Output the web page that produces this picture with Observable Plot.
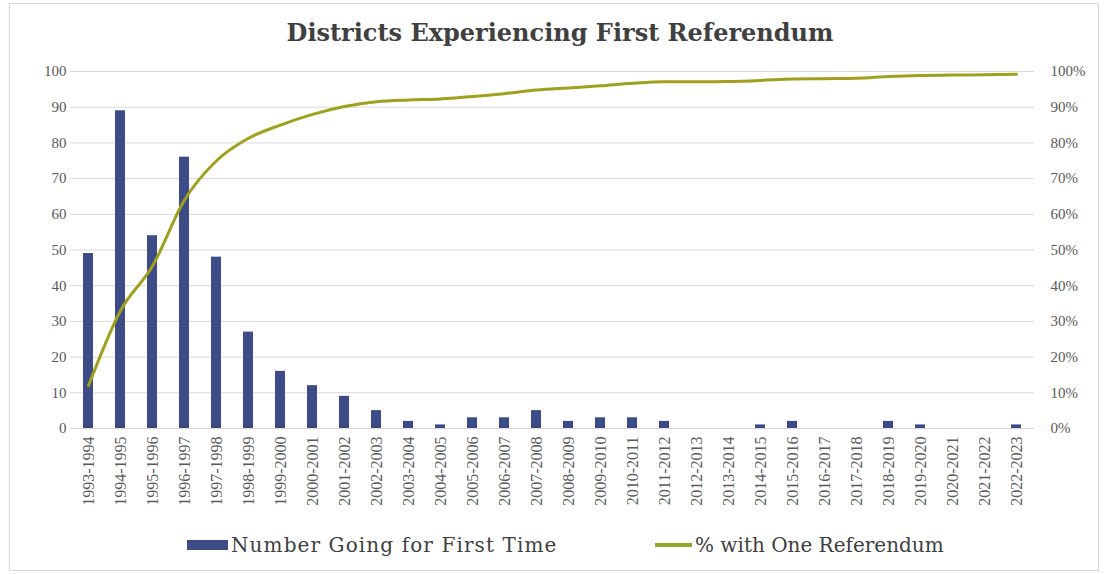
<!DOCTYPE html>
<html>
<head>
<meta charset="utf-8">
<script src="https://cdn.jsdelivr.net/npm/d3@7"></script>
<script src="https://cdn.jsdelivr.net/npm/@observablehq/plot@0.6"></script>
<style>
  html, body { margin: 0; padding: 0; background: #fff; }
  #frame { position: relative; width: 1105px; height: 574px; overflow: hidden; font-family: "Liberation Serif", serif; }
  #border { position: absolute; left: 9px; top: 3px; width: 1090px; height: 568px; border: 1px solid #d9d9d9; box-sizing: border-box; }
  #title { position: absolute; left: 0; top: 17px; width: 1120px; text-align: center; font-family: "DejaVu Serif", serif; font-size: 24px; font-weight: bold; color: #404040; line-height: 32px; }
  #chart { position: absolute; left: 0; top: 55px; }
  #chart svg, #chart svg text { font-family: "Liberation Serif", serif !important; }
  #legend { position: absolute; left: 0; top: 531px; width: 1105px; height: 30px; font-family: "DejaVu Serif", serif; font-size: 20px; color: #404040; }
  .item { position: absolute; top: 0; line-height: 28px; white-space: nowrap; }
  .sw { display: inline-block; vertical-align: middle; margin-right: 3px; }
</style>
</head>
<body>
<div id="frame">
  <div id="border"></div>
  <div id="title">Districts Experiencing First Referendum</div>
  <div id="chart"></div>
  <div id="legend">
    <div class="item" style="left:187px;letter-spacing:1.1px"><span class="sw" style="width:41px;height:10px;background:#3d4b86;position:relative;top:-2px"></span>Number Going for First Time</div>
    <div class="item" style="left:655px"><span class="sw" style="width:37px;height:4px;background:#8fa82a;position:relative;top:-2px"></span>% with One Referendum</div>
  </div>
</div>
<script>
const years = ["1993-1994","1994-1995","1995-1996","1996-1997","1997-1998","1998-1999","1999-2000","2000-2001","2001-2002","2002-2003","2003-2004","2004-2005","2005-2006","2006-2007","2007-2008","2008-2009","2009-2010","2010-2011","2011-2012","2012-2013","2013-2014","2014-2015","2015-2016","2016-2017","2017-2018","2018-2019","2019-2020","2020-2021","2021-2022","2022-2023"];
const firstTime = [49, 89, 54, 76, 48, 27, 16, 12, 9, 5, 2, 1, 3, 3, 5, 2, 3, 3, 2, 0, 0, 1, 2, 0, 0, 2, 1, 0, 0, 1];
const pctOne = [12, 33, 45.5, 64, 75, 81.3, 85, 88, 90.2, 91.5, 92, 92.3, 93, 93.8, 94.8, 95.4, 96, 96.7, 97.1, 97.1, 97.2, 97.5, 97.9, 98.0, 98.1, 98.6, 98.9, 99.0, 99.1, 99.2];
const yTicks = [0, 10, 20, 30, 40, 50, 60, 70, 80, 90, 100];

const rows = years.map((y, i) => ({year: y, n: firstTime[i], pct: pctOne[i]}));

const chart = Plot.plot({
  width: 1105,
  height: 465,
  marginLeft: 70,
  marginRight: 71,
  marginTop: 16,
  marginBottom: 92,
  style: {fontFamily: '"Liberation Serif", serif', fontSize: "15px", color: "#595959", background: "transparent"},
  x: {type: "band", domain: years, paddingInner: 0.7, paddingOuter: 0.35, label: null},
  y: {domain: [0, 100], label: null},
  marks: [
    Plot.gridY(yTicks, {stroke: "#d9d9d9", strokeOpacity: 1, strokeWidth: 1}),
    Plot.barY(rows, {x: "year", y: "n", fill: "#3d4b86"}),
    Plot.lineY(rows, {x: "year", y: "pct", stroke: "#a0a01e", strokeWidth: 3, curve: "monotone-x"}),
    Plot.axisY(yTicks, {anchor: "left", tickSize: 0, tickPadding: 4, label: null, fill: "#595959", fontSize: 15}),
    Plot.axisY(yTicks, {anchor: "right", tickSize: 0, tickPadding: 16, label: null, tickFormat: d => d + "%", textAnchor: "start", fill: "#595959", fontSize: 15}),
    Plot.axisX({tickRotate: -90, tickSize: 0, tickPadding: 8, label: null, fontSize: 16, fill: "#595959"})
  ]
});
document.getElementById("chart").appendChild(chart);
</script>
</body>
</html>
